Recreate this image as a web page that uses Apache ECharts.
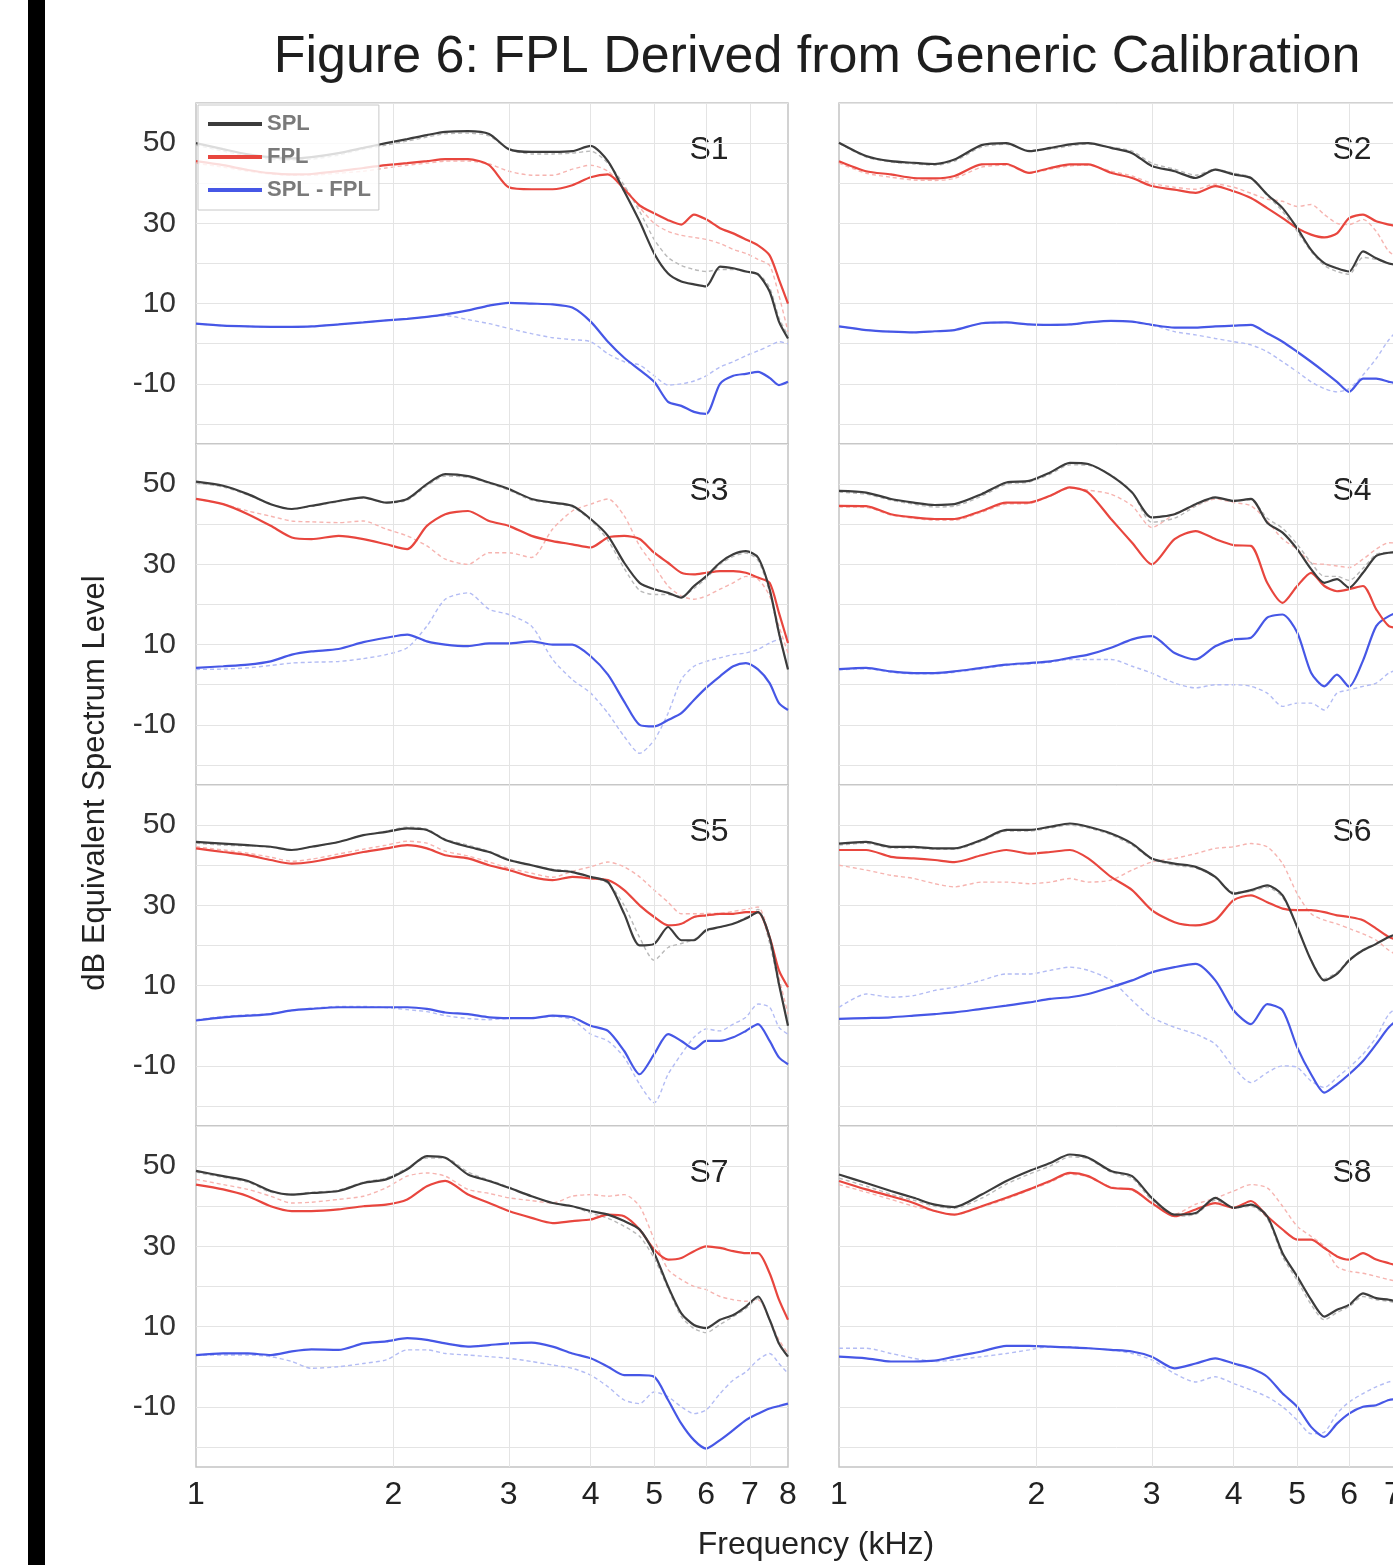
<!DOCTYPE html>
<html>
<head>
<meta charset="utf-8">
<title>Figure 6: FPL Derived from Generic Calibration</title>
<script src="https://cdn.jsdelivr.net/npm/echarts@6/dist/echarts.min.js"></script>
<style>
  html, body { margin: 0; padding: 0; background: #fff; }
  #chart { width: 1393px; height: 1565px; }
</style>
</head>
<body>
<div id="chart"></div>
<script>
// frequency grid (kHz) shared by every curve
const FREQ = [1.0, 1.1, 1.2, 1.3, 1.4, 1.5, 1.65, 1.8, 1.95, 2.1, 2.25, 2.4, 2.6, 2.8, 3.0, 3.25, 3.5, 3.75,
  4.0, 4.25, 4.5, 4.75, 5.0, 5.25, 5.5, 5.75, 6.0, 6.3, 6.6, 6.9, 7.2, 7.5, 7.75, 8.0];
const X_TICKS = [1, 2, 3, 4, 5, 6, 7, 8];
const X_GRIDLINES = [2, 3, 4, 5, 6, 7];
const LEGEND_NAMES = ['SPL', 'FPL', 'SPL - FPL'];
const PANEL_NAMES = ['S1', 'S2', 'S3', 'S4', 'S5', 'S6', 'S7', 'S8'];

// S1
const S1_SPL = [50, 48.5, 47.2, 46.5, 46.2, 46.5, 47.5, 48.8, 50, 51, 52, 52.8, 53, 52.3, 48.5, 47.8, 47.8, 48,
  49.3, 45.5, 38, 30.5, 22.5, 17.5, 15.5, 14.8, 14.3, 19.2, 18.8, 18, 17.3, 13, 5.5, 1.3];
const S1_SPL_ALT = [49.5, 48, 46.8, 46, 45.8, 46, 47, 48.5, 49.5, 50.5, 51.5, 52.3, 52.5, 51.8, 48.5, 47.3, 47.3, 47.5,
  48, 45, 39.5, 33, 26, 21.5, 19.5, 18.5, 18, 18.5, 18.5, 18, 17.5, 14, 6.5, 2];
const S1_FPL = [45.5, 44.5, 43.3, 42.5, 42.2, 42.3, 43, 43.8, 44.5, 45, 45.5, 46, 46, 44.5, 39, 38.5, 38.5, 39.5,
  41.5, 42.2, 38.5, 34.5, 32.5, 30.8, 29.7, 32.2, 31, 28.8, 27.5, 26, 24.5, 22, 16, 10];
const S1_FPL_ALT = [45, 44, 43, 42.3, 42, 42, 42.5, 43, 43.8, 44.5, 45, 45.5, 45.5, 44.8, 43, 42, 42, 43.5,
  44.5, 43, 39, 34, 30, 28, 27, 26.5, 26, 25, 23.5, 22.5, 21, 19.5, 12, 3];
const S1_DIFF = [5, 4.5, 4.3, 4.2, 4.2, 4.3, 4.8, 5.3, 5.8, 6.2, 6.7, 7.3, 8.3, 9.5, 10.2, 10, 9.8, 9,
  5.5, 0.5, -3.5, -6.5, -9.5, -14.5, -15.5, -17, -17.5, -10, -8, -7.5, -7, -8.5, -10.3, -9.5];
const S1_DIFF_ALT = [5, 4.5, 4.3, 4.2, 4.2, 4.3, 4.8, 5.3, 5.8, 6.2, 6.7, 7, 6, 5, 3.8, 2.5, 1.5, 1,
  0.5, -2.5, -4.5, -5.3, -8, -10.3, -10, -9.3, -8, -5.8, -4.5, -3, -1.8, -0.5, 0.5, 0];

// S2
const S2_SPL = [50.1, 46.8, 45.5, 45.1, 44.8, 45.9, 49.5, 50, 48, 48.8, 49.7, 50, 48.8, 47.5, 44.3, 43, 41.3, 43.4,
  42.2, 41.3, 37.2, 33.8, 28.8, 23.4, 20.1, 18.8, 18, 23, 21.3, 20, 19.5, 18.5, 16, 12];
const S2_SPL_ALT = [50, 46.5, 45.3, 44.8, 44.5, 45.5, 49, 49.7, 48.2, 48.5, 49.3, 49.8, 49, 48, 45, 43.5, 42, 43.5,
  42.5, 41.5, 37, 33, 28, 23, 19.5, 18, 17.3, 21.5, 21, 20, 19, 18, 15.5, 11.5];
const S2_FPL = [45.5, 43, 42.2, 41.3, 41.2, 41.8, 44.7, 44.8, 42.6, 43.8, 44.7, 44.7, 42.6, 41.3, 39.3, 38.4, 37.6, 39.3,
  38, 36.3, 33.8, 31.3, 28.8, 27.2, 26.5, 27.5, 31.3, 32.2, 30.5, 29.7, 29, 27.5, 24, 18];
const S2_FPL_ALT = [45, 42.5, 41.5, 40.8, 40.7, 41.2, 44, 44.5, 42.5, 43.5, 44.3, 44.5, 43, 41.8, 40, 39, 38.5, 39.8,
  39, 37.5, 36, 35.5, 34.2, 34.7, 32.2, 30, 29.7, 31, 28, 23, 21, 19, 16, 12];
const S2_DIFF = [4.3, 3.4, 3, 2.8, 3.1, 3.4, 5.1, 5.3, 4.8, 4.7, 4.8, 5.3, 5.7, 5.5, 4.7, 4, 4, 4.3,
  4.5, 4.7, 2.6, 0.5, -2, -4.5, -7, -9.5, -12, -8.7, -8.7, -9.5, -10, -9, -8, -6];
const S2_DIFF_ALT = [4.3, 3.4, 3, 2.8, 3.1, 3.4, 5.1, 5.3, 4.8, 4.7, 4.8, 5.3, 5.7, 5.5, 4.7, 3, 2.2, 1.3,
  0.5, -0.3, -2, -4.5, -7, -9.5, -11.2, -12, -11.2, -7.8, -3.7, 1, 4, 5, 5, 5];

// S3
const S3_SPL = [50.6, 49.6, 47.5, 45, 43.8, 44.6, 45.8, 46.7, 45.4, 46.3, 50, 52.5, 52, 50.4, 48.8, 46.3, 45.4, 44.6,
  41.3, 37.1, 30.4, 25.4, 23.8, 22.9, 21.7, 24.6, 27, 30.4, 32.5, 33.3, 31.7, 23.8, 12.9, 3.8];
const S3_SPL_ALT = [50.3, 49.3, 47.3, 45, 43.8, 44.5, 45.6, 46.5, 45.3, 46, 49.6, 52, 51.7, 50.2, 48.5, 46, 45.2, 44.3,
  41, 36, 29, 23.5, 22.5, 22.5, 22, 24, 26.5, 30, 32, 32.8, 31, 23, 12.5, 4];
const S3_FPL = [46.3, 45, 42.5, 39.6, 36.7, 36.3, 37.1, 36.3, 35, 33.8, 39.6, 42.5, 43.3, 40.8, 39.6, 37.1, 35.8, 35,
  34.2, 36.7, 37.1, 36.3, 32.9, 30.4, 27.9, 27.5, 27.9, 28.3, 28.3, 27.9, 26.7, 25.4, 17.9, 10.4];
const S3_FPL_ALT = [46.3, 45, 43.3, 42, 40.8, 40.6, 40.4, 40.8, 38.8, 37.1, 34.6, 31.3, 30, 32.9, 32.9, 31.7, 38.8, 43.3,
  45, 46.3, 42.1, 34.6, 29.6, 24.6, 22.1, 21.3, 22.1, 23.8, 25.4, 27, 26.3, 22.1, 14.6, 7.9];
const S3_DIFF = [4.2, 4.6, 5, 5.8, 7.5, 8.3, 8.9, 10.6, 11.7, 12.5, 10.8, 10, 9.6, 10.3, 10.3, 10.8, 10, 10,
  7.1, 2.5, -4.2, -10, -10.4, -8.8, -7.1, -3.8, -0.8, 2.1, 4.6, 5.4, 3.8, 0.4, -4.6, -6.3];
const S3_DIFF_ALT = [3.8, 3.9, 4.2, 4.8, 5.4, 5.6, 5.8, 6.5, 7.5, 9.2, 14.6, 21.3, 22.9, 18.8, 17.5, 14.6, 6.3, 1.3,
  -2.1, -7.1, -12.9, -17.1, -13.8, -7.1, 1.3, 4.6, 5.8, 6.7, 7.5, 7.9, 8.8, 10.4, 11.3, 12];

// S4
const S4_SPL = [48.3, 47.9, 46.3, 45.4, 44.8, 45, 47.5, 50.4, 50.8, 52.9, 55.3, 55, 52.1, 47.9, 41.7, 42.5, 45, 46.7,
  45.8, 46.3, 40.4, 37.9, 33.8, 28.8, 25.4, 26.3, 24.2, 27.9, 32.1, 32.9, 33, 32, 28, 20];
const S4_SPL_ALT = [48, 47.5, 46, 45, 44.3, 44.5, 47, 50, 50.5, 52.5, 54.8, 54.7, 52.3, 48, 40.5, 41.5, 44.5, 46.5,
  46, 46, 41.5, 39, 35, 30.4, 27, 27, 26, 29, 32.5, 33, 33, 32, 28, 20];
const S4_FPL = [44.6, 44.5, 42.5, 41.7, 41.3, 41.3, 43.3, 45.4, 45.4, 47.1, 49.2, 47.9, 41.3, 35.4, 30, 36.3, 38.3, 36.3,
  34.8, 34.6, 25.4, 20.4, 24.6, 27.9, 24.6, 23.3, 23.8, 24.6, 18.8, 14.6, 14, 13, 11, 8];
const S4_FPL_ALT = [44.3, 44.2, 42.3, 41.5, 41, 41, 43, 45, 45.2, 47, 49, 48.5, 47.5, 44.6, 39.2, 42.5, 44.6, 46.3,
  45.4, 44.6, 40.8, 36.3, 33.8, 30.4, 30, 29.6, 29.2, 31.3, 33.8, 35.4, 35, 33, 28, 20];
const S4_DIFF = [3.9, 4.2, 3.3, 2.9, 2.9, 3.3, 4.2, 5, 5.4, 5.8, 6.7, 7.5, 9.2, 11.3, 12.1, 7.9, 6.3, 9.6,
  11.3, 11.7, 16.7, 17.5, 13, 3, -0.4, 2.5, -0.5, 6, 14.6, 17.1, 18, 18, 17, 12];
const S4_DIFF_ALT = [3.7, 4, 3.1, 2.7, 2.7, 3.1, 4, 4.8, 5.2, 5.6, 6.3, 6.3, 6.3, 4.6, 2.9, 0.4, -0.8, 0,
  0, -0.4, -2.1, -5.4, -4.6, -4.6, -6.3, -2.1, -1.3, -0.4, 0.4, 2.9, 4, 5, 5, 5];

// S5
const S5_SPL = [45.8, 45.4, 45, 44.6, 43.8, 44.6, 45.8, 47.5, 48.3, 49.2, 48.8, 46.3, 44.6, 43.3, 41.3, 40, 38.8, 38.3,
  37.1, 35.8, 27.9, 20, 20.4, 24.6, 21.3, 21.3, 23.8, 24.6, 25.4, 26.7, 28.3, 22, 10.4, 0];
const S5_SPL_ALT = [45.5, 45, 44.8, 44.5, 43.8, 44.5, 45.8, 47.5, 48.5, 49.5, 49, 46.5, 45, 43.5, 41.5, 40, 39, 38.5,
  37, 35.5, 30, 22, 16.3, 19.5, 20.5, 21.5, 23.5, 24.5, 25.5, 27, 29, 20.5, 10, 1];
const S5_FPL = [44.2, 43.3, 42.5, 41.3, 40.4, 40.8, 42.1, 43.3, 44.2, 45, 44.2, 42.5, 41.7, 40, 38.8, 37.1, 36.3, 37.1,
  36.7, 36.3, 33.8, 30, 27.1, 25, 25.4, 27.1, 27.5, 27.9, 27.9, 28.3, 28.3, 22.1, 13.8, 9.6];
const S5_FPL_ALT = [44.6, 43.8, 43, 42, 41, 41.5, 42.8, 44, 45, 46, 45.5, 43.5, 42.3, 40.8, 39.3, 38, 37, 38.5,
  39.6, 40.8, 39.6, 37.1, 33.8, 30.8, 27.9, 27.9, 28, 28, 28.5, 29, 29.6, 22, 12, 2.9];
const S5_DIFF = [1.3, 2.1, 2.5, 2.9, 3.8, 4.2, 4.6, 4.6, 4.6, 4.6, 4.2, 3.3, 2.9, 2.1, 1.9, 1.9, 2.5, 2.1,
  0, -1.3, -6.3, -12.1, -7.1, -2.1, -3.8, -5.8, -3.8, -3.8, -2.9, -1.3, 0.4, -3.8, -7.9, -9.6];
const S5_DIFF_ALT = [1.5, 2.3, 2.7, 3, 3.8, 4.3, 4.8, 4.8, 4.5, 4, 3.5, 2.5, 1.8, 1.5, 1.8, 1.9, 2.3, 1.5,
  -2.1, -3.8, -7.9, -14.6, -19.2, -12.1, -7.1, -2.9, -0.8, -1.3, 0.4, 2.1, 5.4, 4.6, -0.4, -2.1];

// S6
const S6_SPL = [45.4, 45.8, 44.6, 44.6, 44.2, 44.2, 46.3, 48.8, 48.8, 49.6, 50.4, 49.6, 47.9, 45.4, 41.7, 40.4, 39.6, 37.1,
  32.9, 33.8, 35, 32.5, 24.6, 16.3, 11.3, 12.9, 16.3, 18.8, 20.4, 22.1, 23, 22, 18, 12];
const S6_SPL_ALT = [45, 45.5, 44.3, 44.3, 44, 44, 46, 48.5, 48.5, 49.3, 50, 49.3, 47.6, 45, 41.5, 40, 39.3, 37,
  33.3, 33.5, 34.5, 32, 24.5, 16.5, 11.7, 13.3, 16.5, 19, 20.5, 22, 23, 22, 18, 12];
const S6_FPL = [43.8, 43.8, 42.1, 41.7, 41.3, 40.8, 42.5, 43.8, 42.9, 43.3, 43.8, 41.7, 37.1, 33.8, 28.8, 25.8, 25, 26.3,
  31.3, 32.5, 30.8, 29.2, 28.8, 28.8, 28.3, 27.5, 27.1, 26.3, 24.2, 22.1, 21, 19, 16, 12];
const S6_FPL_ALT = [40, 38.8, 37.5, 36.7, 35.4, 34.6, 35.8, 35.8, 35.4, 35.8, 36.7, 35.8, 36.3, 38.8, 40.8, 41.7, 42.9, 44.2,
  44.6, 45.4, 44.6, 40.4, 32.9, 27.9, 26.3, 25.4, 24.2, 22.9, 21.3, 18.8, 17, 15, 12, 9];
const S6_DIFF = [1.7, 1.9, 2.1, 2.5, 2.9, 3.3, 4.2, 5, 5.8, 6.7, 7.1, 7.9, 9.6, 11.3, 13.3, 14.6, 15.4, 11.3,
  3.8, 0.4, 5.4, 3.8, -5.4, -12.1, -16.7, -14.6, -12.1, -8.8, -4.6, -0.4, 2, 3, 3, 3];
const S6_DIFF_ALT = [4.6, 7.9, 7.1, 7.5, 8.8, 9.6, 11.3, 12.9, 12.9, 13.8, 14.6, 13.8, 11.3, 6.3, 2.1, -0.4, -2.1, -4.6,
  -10.4, -14.2, -11.7, -10, -10.4, -13.8, -15.4, -12.9, -10.4, -7.1, -2.9, 2.9, 5, 6, 6, 6];

// S7
const S7_SPL = [48.8, 47.5, 46.3, 43.8, 42.9, 43.3, 43.8, 45.8, 46.7, 49.2, 52.5, 52.1, 47.9, 46.3, 44.6, 42.5, 40.8, 40,
  38.8, 37.9, 36.3, 34.2, 28.3, 20, 13.3, 10.4, 9.6, 11.7, 12.9, 15, 17.5, 11.7, 5.8, 2.5];
const S7_SPL_ALT = [48.5, 47.2, 46, 43.5, 43, 43.5, 44, 46, 47, 49.5, 52, 52, 48.5, 46.5, 44.8, 42.5, 40.8, 40,
  38.3, 37, 35, 32.5, 27, 19.5, 12.5, 9.5, 8.5, 10.5, 12.5, 14.5, 17, 11.5, 5.5, 2.5];
const S7_FPL = [45.4, 44.2, 42.5, 40, 38.8, 38.8, 39.2, 40, 40.4, 41.7, 45, 46.3, 42.9, 40.8, 38.8, 37.1, 35.8, 36.3,
  36.7, 37.9, 37.5, 34.2, 29.2, 26.7, 27.1, 28.8, 30, 29.6, 28.8, 28.3, 28.3, 23.3, 16.7, 11.7];
const S7_FPL_ALT = [46.7, 45.4, 44.2, 42.5, 40.8, 41, 41.7, 42.5, 44.6, 47.5, 48.3, 47.5, 44.2, 43.2, 42.1, 41.4, 40.8, 42.5,
  42.9, 42.5, 42.9, 40, 31.7, 24.2, 21.7, 20, 19.2, 17.5, 16.7, 16.3, 16.7, 11.7, 6.7, 3.3];
const S7_DIFF = [2.9, 3.3, 3.3, 2.9, 3.8, 4.3, 4.2, 5.8, 6.3, 7.1, 6.7, 5.8, 5, 5.4, 5.8, 6, 5, 3.3,
  2.1, 0, -2.1, -2.1, -2.5, -8.3, -14.2, -18.3, -20.4, -18.3, -15.8, -13.3, -11.7, -10.4, -9.8, -9.2];
const S7_DIFF_ALT = [2.9, 2.9, 2.9, 2.5, 1.3, -0.4, 0, 0.8, 1.7, 4.2, 4.2, 3.3, 2.9, 2.5, 2.1, 1.3, 0.4, -0.4,
  -2.1, -5, -8.3, -9.2, -6.3, -7.5, -10, -11.7, -10.8, -6.7, -3.3, -1.3, 1.7, 3.3, 0.8, -1.7];

// S8
const S8_SPL = [47.9, 45.8, 43.8, 42.1, 40.4, 39.8, 42.9, 46.3, 48.8, 50.8, 52.9, 52.1, 48.8, 47.5, 42.1, 37.9, 38.3, 42.1,
  39.6, 40.4, 37.5, 28.3, 22.5, 16.7, 12.5, 14.2, 15.4, 18.3, 17.1, 16.7, 16, 15, 12, 8];
const S8_SPL_ALT = [47, 45, 43, 41.5, 40, 39.5, 42, 45.5, 48, 50, 52.3, 51.8, 48.5, 47, 41.5, 37.5, 38, 41.5,
  39.5, 40, 37, 27.5, 21.5, 15.5, 11.7, 13.5, 15, 17.5, 16.7, 16.3, 15.5, 14.5, 11.5, 7.5];
const S8_FPL = [46.3, 44.2, 42.5, 40.8, 38.8, 37.9, 40, 42.1, 44.2, 46.3, 48.3, 47.5, 44.6, 44.2, 40.8, 37.5, 39.2, 40.8,
  39.6, 41.3, 37.5, 34.2, 31.7, 31.7, 29.6, 27.5, 26.7, 28.3, 26.7, 25.8, 25, 24, 22, 18];
const S8_FPL_ALT = [45.4, 43.5, 41.7, 40, 38.8, 37.9, 39.8, 41.8, 44, 46, 48, 47.3, 44.8, 44, 40.8, 38, 40.5, 42,
  43.8, 45.4, 44.6, 40, 35, 32.5, 30, 25, 23.8, 23.3, 22.5, 21.7, 21, 20, 18, 14];
const S8_DIFF = [2.5, 2.1, 1.3, 1.3, 1.5, 2.5, 3.8, 5.2, 5.2, 5, 4.8, 4.6, 4.2, 3.8, 2.5, -0.4, 0.8, 2.1,
  0.8, -0.4, -2.5, -6.7, -10, -15, -17.5, -14.2, -11.7, -10, -9.6, -8.3, -8, -7.5, -7, -6.5];
const S8_DIFF_ALT = [4.6, 4.6, 3.3, 2.1, 1.3, 1.7, 2.5, 3.3, 4.2, 5, 5, 4.6, 4.2, 3.3, 1.7, -1.7, -3.8, -2.5,
  -4.2, -5.8, -7.5, -10, -13.3, -16.7, -16.3, -11.7, -8.8, -6.7, -5, -3.8, -3, -2.5, -2, -2];

const PANELS = [
  [S1_SPL, S1_SPL_ALT, S1_FPL, S1_FPL_ALT, S1_DIFF, S1_DIFF_ALT],
  [S2_SPL, S2_SPL_ALT, S2_FPL, S2_FPL_ALT, S2_DIFF, S2_DIFF_ALT],
  [S3_SPL, S3_SPL_ALT, S3_FPL, S3_FPL_ALT, S3_DIFF, S3_DIFF_ALT],
  [S4_SPL, S4_SPL_ALT, S4_FPL, S4_FPL_ALT, S4_DIFF, S4_DIFF_ALT],
  [S5_SPL, S5_SPL_ALT, S5_FPL, S5_FPL_ALT, S5_DIFF, S5_DIFF_ALT],
  [S6_SPL, S6_SPL_ALT, S6_FPL, S6_FPL_ALT, S6_DIFF, S6_DIFF_ALT],
  [S7_SPL, S7_SPL_ALT, S7_FPL, S7_FPL_ALT, S7_DIFF, S7_DIFF_ALT],
  [S8_SPL, S8_SPL_ALT, S8_FPL, S8_FPL_ALT, S8_DIFF, S8_DIFF_ALT]
];

// layout
const FONT = '"Liberation Sans", Arial, sans-serif';
const COL_LEFT = [196, 839];
const ROW_TOP = [103, 444, 785, 1126];
const PANEL_W = 592;
const PANEL_H = 341;

const COLORS = {
  spl: '#3c3c3c', splAlt: '#b9b9b9',
  fpl: '#e8463e', fplAlt: '#f6b4b0',
  diff: '#4657e6', diffAlt: '#b3bcf4'
};

function pairs(arr) {
  return FREQ.map((f, i) => [f, arr[i]]);
}

const grids = [], xAxes = [], yAxes = [], series = [], graphics = [];

PANELS.forEach((p, i) => {
  const col = i % 2, row = Math.floor(i / 2);
  grids.push({
    left: COL_LEFT[col], top: ROW_TOP[row], width: PANEL_W, height: PANEL_H,
    outerBoundsMode: 'none', containLabel: false,
    show: true, borderColor: '#c4c4c4', borderWidth: 1.5, backgroundColor: 'transparent'
  });
  xAxes.push({
    type: 'log', logBase: 2, gridIndex: i, min: 1, max: 8,
    axisLine: { show: false },
    axisTick: { show: false, customValues: X_TICKS },
    splitLine: { show: false },
    axisLabel: {
      show: row === 3, customValues: X_TICKS, fontSize: 32, color: '#222',
      fontFamily: FONT, margin: 12
    }
  });
  yAxes.push({
    type: 'value', gridIndex: i, min: -25, max: 60, interval: 5,
    axisLine: { show: false },
    axisTick: { show: false },
    axisLabel: {
      show: col === 0, fontSize: 30, color: '#333', fontFamily: FONT, margin: 20,
      formatter: v => ((v + 10) % 20 === 0 ? String(v) : '')
    },
    splitLine: { lineStyle: { color: ['rgba(0,0,0,0)', '#e4e4e4'], width: 1 } }
  });

  const [spl, splAlt, fpl, fplAlt, diff, diffAlt] = p;
  const base = { type: 'line', xAxisIndex: i, yAxisIndex: i, showSymbol: false, smooth: 0.25, silent: true };
  const faint = (name, data, color) => ({
    ...base, name, data: pairs(data), color,
    lineStyle: { color, width: 1.4, type: [4, 3] }
  });
  const solid = (name, data, color) => ({
    ...base, name, data: pairs(data), color,
    lineStyle: { color, width: 2.2 }
  });

  series.push({
    ...faint('SPL - FPL (generic)', diffAlt, COLORS.diffAlt),
    markLine: {
      silent: true, symbol: ['none', 'none'], label: { show: false },
      lineStyle: { color: '#e4e4e4', type: 'solid', width: 1 },
      data: X_GRIDLINES.map(v => ({ xAxis: v }))
    }
  });
  series.push(faint('FPL (generic)', fplAlt, COLORS.fplAlt));
  series.push(faint('SPL (generic)', splAlt, COLORS.splAlt));
  series.push(solid('SPL - FPL', diff, COLORS.diff));
  series.push(solid('FPL', fpl, COLORS.fpl));
  series.push(solid('SPL', spl, COLORS.spl));

  graphics.push({
    type: 'text', x: COL_LEFT[col] + 513, y: ROW_TOP[row] + 47,
    style: { text: PANEL_NAMES[i], fontSize: 32, fontFamily: FONT, fill: '#222',
      textAlign: 'center', textVerticalAlign: 'middle' }
  });
});

graphics.push(
  { type: 'rect', shape: { x: 28, y: 0, width: 17, height: 1565 }, style: { fill: '#000' } },
  {
    type: 'text', x: 817, y: 58,
    style: { text: 'Figure 6: FPL Derived from Generic Calibration', fontSize: 52, fontFamily: FONT,
      fill: '#1e1e1e', textAlign: 'center', textVerticalAlign: 'middle' }
  },
  {
    type: 'text', x: 95, y: 783, rotation: Math.PI / 2,
    style: { text: 'dB Equivalent Spectrum Level', fontSize: 31, fontFamily: FONT,
      fill: '#222', textAlign: 'center', textVerticalAlign: 'middle' }
  },
  {
    type: 'text', x: 816, y: 1545,
    style: { text: 'Frequency (kHz)', fontSize: 32, fontFamily: FONT,
      fill: '#222', textAlign: 'center', textVerticalAlign: 'middle' }
  }
);

const chart = echarts.init(document.getElementById('chart'));
chart.setOption({
  animation: false,
  backgroundColor: '#fff',
  legend: {
    data: LEGEND_NAMES,
    orient: 'vertical', left: 198, top: 105,
    icon: 'rect', itemWidth: 54, itemHeight: 4, itemGap: 9,
    padding: [7, 8, 8, 10],
    backgroundColor: 'rgba(255,255,255,0.82)', borderColor: '#c8c8c8', borderWidth: 1,
    selectedMode: false,
    textStyle: { fontSize: 22, fontWeight: 'bold', color: '#7a7a7a', fontFamily: FONT, lineHeight: 24 }
  },
  grid: grids,
  xAxis: xAxes,
  yAxis: yAxes,
  series,
  graphic: graphics
});
</script>
</body>
</html>
